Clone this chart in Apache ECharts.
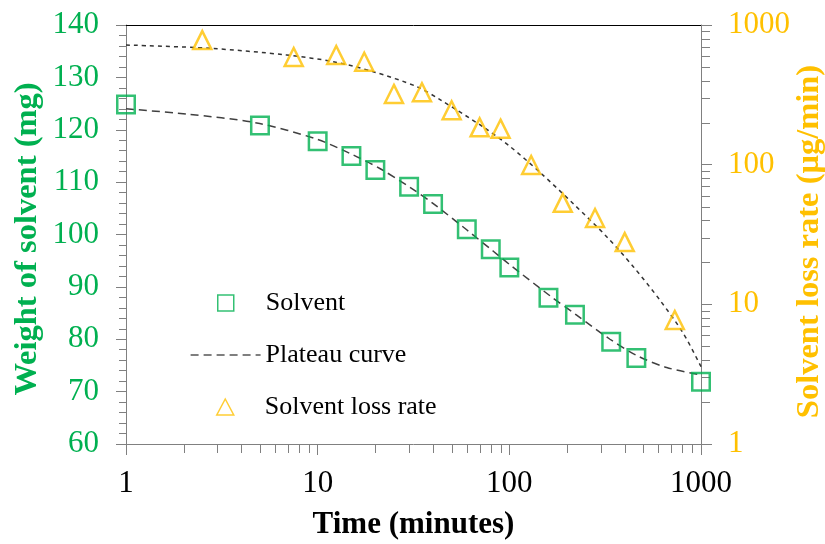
<!DOCTYPE html>
<html>
<head>
<meta charset="utf-8">
<script src="https://cdn.jsdelivr.net/npm/echarts@6/dist/echarts.min.js"></script>
<style>
  html, body { margin: 0; padding: 0; background: #ffffff; }
  #chart { width: 825px; height: 544px; }
</style>
</head>
<body>
<div id="chart"></div>
<script>
// Measured solvent weight (mg) against time (minutes)
const solventTime = [1, 5, 10, 15, 20, 30, 40, 60, 80, 100, 160, 220, 340, 460, 1000];
const solventWeight = [124.8, 120.8, 117.8, 115.0, 112.3, 109.1, 105.8, 101.0, 97.2, 93.7, 87.9, 84.7, 79.5, 76.4, 71.9];

// Solvent loss rate (µg/min) against time (minutes)
const rateTime = [2.5, 7.5, 12.5, 17.5, 25, 35, 50, 70, 90, 130, 190, 280, 400, 730];
const lossRate = [780, 590, 610, 546, 321, 330, 245, 185, 181, 99.5, 53.3, 41.5, 27.9, 7.73];

// Plateau curve through the weight data
const weightFitTime = [1, 2.07, 4.81, 9.89, 15.3, 21.1, 30.3, 40.1, 59.9, 82.5, 100.8, 163, 224.6, 335, 462, 662, 1000];
const weightFit = [124.0, 123.0, 121.3, 118.2, 115.2, 112.6, 109.0, 105.9, 100.9, 96.8, 94.2, 88.3, 84.6, 80.0, 76.9, 74.6, 73.2];

// Plateau curve through the loss-rate data
const rateFitTime = [1, 2.74, 6.89, 12.07, 19.5, 32.9, 43.5, 73.1, 100.8, 144.6, 215.7, 322, 443.5, 611, 808, 1000];
const rateFit = [719, 681, 610, 546, 463, 362, 292, 186, 135, 88, 52.5, 30.5, 18.6, 10.7, 6.2, 3.58];

// Axis ticks
const timeMajorTicks = [1, 10, 100, 1000];
const timeMinorTicks = [2, 3, 4, 5, 6, 7, 8, 9, 20, 30, 40, 50, 60, 70, 80, 90, 200, 300, 400, 500, 600, 700, 800, 900];
const rateMinorTicks = [2, 3, 4, 5, 6, 7, 8, 9, 20, 30, 40, 50, 60, 70, 80, 90, 200, 300, 400, 500, 600, 700, 800, 900];

const GREEN = '#00B050';
const ORANGE = '#FFC000';
const AXIS_GRAY = '#808080';
const FONT = '"Liberation Serif", "Times New Roman", serif';

const TIME_MIN = timeMajorTicks[0];
const TIME_MAX = timeMajorTicks[timeMajorTicks.length - 1];
const WEIGHT_MIN = 60, WEIGHT_MAX = 140;
const RATE_MIN = 1, RATE_MAX = 1000;

const zip = (xs, ys) => xs.map((x, i) => [x, ys[i]]);
const plainNumber = v => String(Math.round(v * 1000) / 1000);
const HIDDEN = 'rgba(0,0,0,0)';

const chart = echarts.init(document.getElementById('chart'), null, { renderer: 'canvas' });

const option = {
  animation: false,
  backgroundColor: '#ffffff',
  grid: { left: 126, right: 124, top: 25, bottom: 100, containLabel: false, outerBoundsMode: 'none' },
  legend: [
    {
      data: ['Solvent'],
      left: 217, top: 290, padding: 0,
      itemWidth: 16, itemHeight: 16,
      selectedMode: false,
      itemStyle: { color: HIDDEN, borderColor: GREEN, borderWidth: 1.5 },
      textStyle: { fontFamily: FONT, fontSize: 26, color: '#000', padding: [0, 0, 0, 27] }
    },
    {
      data: ['Plateau curve'],
      left: 190, top: 342, padding: 0,
      itemWidth: 70, itemHeight: 14,
      selectedMode: false,
      itemStyle: { color: HIDDEN, borderColor: HIDDEN, borderWidth: 0, opacity: 0 },
      lineStyle: { color: '#000', width: 1.2, type: [8, 5] },
      textStyle: { fontFamily: FONT, fontSize: 26, color: '#000' }
    },
    {
      data: ['Solvent loss rate'],
      left: 216, top: 394, padding: 0,
      itemWidth: 17, itemHeight: 16,
      selectedMode: false,
      itemStyle: { color: HIDDEN, borderColor: ORANGE, borderWidth: 1.5 },
      textStyle: { fontFamily: FONT, fontSize: 26, color: '#000', padding: [0, 0, 0, 26] }
    }
  ],
  xAxis: [
    {
      type: 'log', logBase: 10, min: TIME_MIN, max: TIME_MAX,
      position: 'bottom',
      name: 'Time (minutes)', nameLocation: 'middle', nameGap: 65, nameMoveOverlap: false,
      nameTextStyle: { fontFamily: FONT, fontSize: 31, fontWeight: 'bold', color: '#000' },
      axisLine: { show: true, lineStyle: { color: AXIS_GRAY, width: 1 } },
      axisTick: { show: true, inside: false, length: 11, lineStyle: { color: AXIS_GRAY, width: 1 } },
      minorTick: { show: false },
      axisLabel: { margin: 24, color: '#000', fontFamily: FONT, fontSize: 31, formatter: plainNumber },
      splitLine: { show: false }
    },
    {
      type: 'log', logBase: 10, min: TIME_MIN, max: TIME_MAX,
      position: 'top',
      axisLine: { show: true, lineStyle: { color: '#000', width: 1 } },
      axisTick: { show: false },
      axisLabel: { show: false },
      splitLine: { show: false }
    }
  ],
  yAxis: [
    {
      type: 'value', min: WEIGHT_MIN, max: WEIGHT_MAX, interval: 10,
      position: 'left',
      name: 'Weight of solvent (mg)', nameLocation: 'middle', nameGap: 82, nameMoveOverlap: false,
      nameTextStyle: { fontFamily: FONT, fontSize: 32.5, fontWeight: 'bold', color: GREEN, padding: [0, 9, 0, 0] },
      axisLine: { show: true, lineStyle: { color: AXIS_GRAY, width: 1 } },
      axisTick: { show: true, inside: false, length: 10, lineStyle: { color: AXIS_GRAY, width: 1 } },
      minorTick: { show: true, splitNumber: 5, length: 7, lineStyle: { color: AXIS_GRAY, width: 1 } },
      axisLabel: { margin: 27, color: GREEN, fontFamily: FONT, fontSize: 31 },
      splitLine: { show: false }
    },
    {
      type: 'log', logBase: 10, min: RATE_MIN, max: RATE_MAX,
      position: 'right',
      name: 'Solvent loss rate (μg/min)', nameLocation: 'middle', nameGap: 92, nameMoveOverlap: false,
      nameTextStyle: { fontFamily: FONT, fontSize: 32.5, fontWeight: 'bold', color: ORANGE, padding: [0, 14, 0, 0] },
      axisLine: { show: true, lineStyle: { color: AXIS_GRAY, width: 1 } },
      axisTick: { show: true, inside: false, length: 11, lineStyle: { color: AXIS_GRAY, width: 1 } },
      minorTick: { show: false },
      axisLabel: { margin: 27, color: ORANGE, fontFamily: FONT, fontSize: 31, formatter: plainNumber },
      splitLine: { show: false }
    }
  ],
  series: [
    {
      name: 'Plateau curve',
      type: 'line',
      xAxisIndex: 0, yAxisIndex: 0,
      data: zip(weightFitTime, weightFit),
      smooth: 0.3,
      symbol: 'none',
      clip: false,
      itemStyle: { color: '#404040' },
      lineStyle: { color: '#404040', width: 1.5, type: [8, 5] },
      z: 3
    },
    {
      name: 'Plateau curve',
      type: 'line',
      xAxisIndex: 0, yAxisIndex: 1,
      data: zip(rateFitTime, rateFit),
      smooth: 0.3,
      symbol: 'none',
      clip: false,
      itemStyle: { color: '#333333' },
      lineStyle: { color: '#333333', width: 1.5, type: [4, 4] },
      z: 3
    },
    {
      name: 'Solvent',
      type: 'scatter',
      xAxisIndex: 0, yAxisIndex: 0,
      data: zip(solventTime, solventWeight),
      symbol: 'rect',
      symbolSize: 17.5,
      clip: false,
      itemStyle: { color: HIDDEN, borderColor: GREEN, borderWidth: 2.5 },
      z: 4
    },
    {
      name: 'Solvent loss rate',
      type: 'scatter',
      xAxisIndex: 0, yAxisIndex: 1,
      data: zip(rateTime, lossRate),
      symbol: 'triangle',
      symbolSize: 18,
      clip: false,
      itemStyle: { color: HIDDEN, borderColor: ORANGE, borderWidth: 2.5 },
      z: 4
    },
    {
      // minor ticks of the logarithmic time axis
      name: 'time minor ticks',
      type: 'custom',
      xAxisIndex: 0, yAxisIndex: 0,
      silent: true,
      clip: false,
      data: timeMinorTicks.map(v => [v, WEIGHT_MIN]),
      renderItem: (params, api) => {
        const p = api.coord([api.value(0), api.value(1)]);
        const x = Math.round(p[0]) + 0.5;
        return { type: 'line', shape: { x1: x, y1: p[1], x2: x, y2: p[1] + 9 },
                 style: { stroke: AXIS_GRAY, lineWidth: 1 } };
      },
      z: 1
    },
    {
      // minor ticks of the logarithmic rate axis
      name: 'rate minor ticks',
      type: 'custom',
      xAxisIndex: 0, yAxisIndex: 1,
      silent: true,
      clip: false,
      data: rateMinorTicks.map(v => [TIME_MAX, v]),
      renderItem: (params, api) => {
        const p = api.coord([api.value(0), api.value(1)]);
        const y = Math.round(p[1]) + 0.5;
        return { type: 'line', shape: { x1: p[0], y1: y, x2: p[0] + 9, y2: y },
                 style: { stroke: AXIS_GRAY, lineWidth: 1 } };
      },
      z: 1
    }
  ]
};

chart.setOption(option);
</script>
</body>
</html>
